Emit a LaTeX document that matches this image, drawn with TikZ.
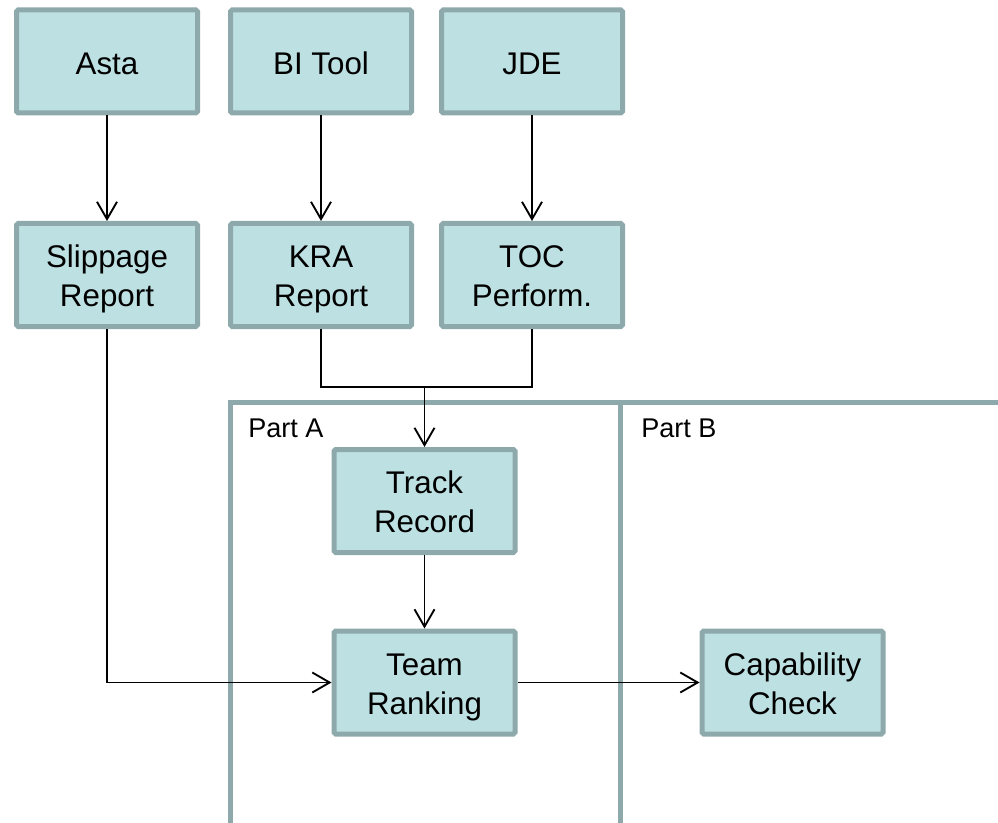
\documentclass[tikz,border=0pt]{standalone}
\usepackage{fontspec}
\setmainfont{Liberation Sans}
\usetikzlibrary{arrows.meta}
\definecolor{boxfill}{HTML}{BDE0E2}
\definecolor{boxline}{HTML}{8DA9AB}
\tikzset{
  blk/.style={draw=boxline, fill=boxfill, line width=3.75pt, rounded corners=1.2pt,
    minimum width=135.75pt, minimum height=77.25pt, inner sep=0pt, align=center,
    font=\fontsize{23.5}{29.25}\selectfont, text depth=0pt, text height=47.25pt},
  oneline/.style={text height=20.25pt},
  arr/.style={line width=1.4pt, -{Straight Barb[length=13pt,width=15pt,line width=1.4pt]}},
  conn/.style={line width=1.4pt},
  frameline/.style={draw=boxline, line width=3.75pt},
  partlbl/.style={inner sep=0pt, anchor=base west, font=\fontsize{20.3}{24}\selectfont}
}
\begin{document}
\begin{tikzpicture}[x=0.75pt, y=-0.75pt]
\useasboundingbox (0,0) rectangle (998,823);
\begin{scope}
\clip (0,0) rectangle (998,823);
\draw[frameline] (230,840) -- (230,402.5) -- (1010,402.5);
\draw[frameline] (620.5,402.5) -- (620.5,840);
\end{scope}
\node[partlbl] (pa) at (248,437) {Part A};
\node[partlbl] (pb) at (641,437) {Part B};

\node[blk, oneline] (asta) at (107,61.5) {Asta};
\node[blk, oneline] (bi) at (321,61.5) {BI Tool};
\node[blk, oneline] (jde) at (532,61.5) {JDE};
\node[blk] (slip) at (107,275) {Slippage\\Report};
\node[blk] (kra) at (321,275) {KRA\\Report};
\node[blk] (toc) at (532,275) {TOC\\Perform.};
\node[blk] (track) at (424.5,501) {Track\\Record};
\node[blk] (team) at (424.5,682.5) {Team\\Ranking};
\node[blk] (cap) at (792.5,682.5) {Capability\\Check};

\coordinate (j) at (424.5,387);
\draw[arr] (asta) -- (slip);
\draw[arr] (bi) -- (kra);
\draw[arr] (jde) -- (toc);
\draw[conn] (kra.south) |- (j) -| (toc.south);
\draw[arr] (j) -- (track);
\draw[arr] (track) -- (team);
\draw[arr] (slip.south) |- (team.west);
\draw[arr] (team) -- (cap);
\end{tikzpicture}
\end{document}
